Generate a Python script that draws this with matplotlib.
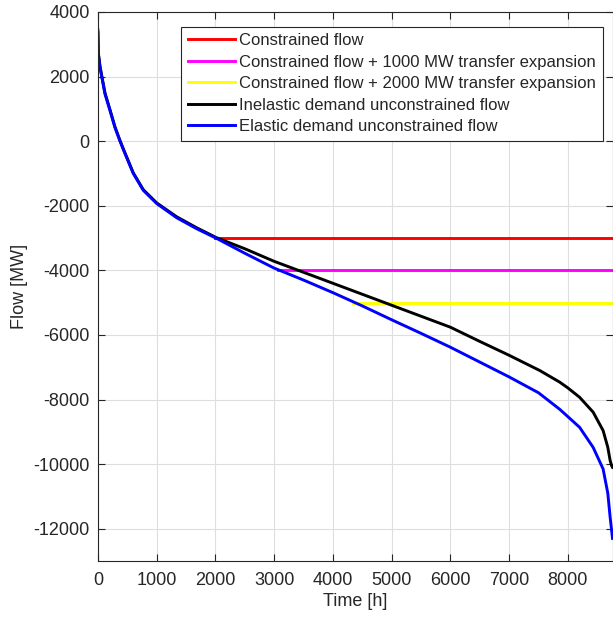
import numpy as np
import matplotlib
matplotlib.use("Agg")
import matplotlib.pyplot as plt

plt.rcParams['font.family'] = ['Liberation Sans', 'DejaVu Sans']
plt.rcParams['axes.unicode_minus'] = False

# Duration curves (hours, MW)
elastic_h = [0, 7, 36, 65, 121, 206, 291, 376, 440, 602, 772, 1000, 1340, 1680, 2020,
             2500, 3000, 3500, 4000, 4500, 5000, 5500, 6000, 6500, 7000, 7500, 7860,
             8000, 8200, 8430, 8600, 8680, 8720, 8745, 8760]
elastic_mw = [3360, 2700, 2280, 2000, 1460, 950, 420, 0, -290, -1000, -1520, -1930, -2370,
              -2710, -3010, -3470, -3930, -4300, -4690, -5100, -5530, -5950, -6380, -6840,
              -7300, -7790, -8300, -8530, -8860, -9480, -10150, -10900, -11650, -12050, -12300]

inelastic_h = [0, 7, 36, 65, 121, 206, 291, 376, 440, 602, 772, 1000, 1340, 1680, 2020,
               2500, 3000, 3500, 4000, 4500, 5000, 5500, 6000, 6500, 7000, 7520, 7860,
               8000, 8200, 8430, 8600, 8680, 8720, 8745, 8760]
inelastic_mw = [3440, 2740, 2320, 2030, 1490, 970, 440, 20, -270, -980, -1500, -1910, -2340,
                -2680, -2990, -3330, -3720, -4060, -4400, -4740, -5080, -5420, -5760, -6200,
                -6630, -7100, -7460, -7640, -7930, -8390, -8960, -9480, -9890, -10050, -10100]

# Constrained flows: (start hour, end hour) and limit (MW)
red_h = [2000, 8760];        red_mw = [-3000, -3000]
magenta_h = [3070, 8760];    magenta_mw = [-4000, -4000]
yellow_h = [4340, 8760];     yellow_mw = [-5000, -5000]

labels = ["Constrained flow",
          "Constrained flow + 1000 MW transfer expansion",
          "Constrained flow + 2000 MW transfer expansion",
          "Inelastic demand unconstrained flow",
          "Elastic demand unconstrained flow"]

fig = plt.figure(figsize=(6.13, 6.17), dpi=100)
W, H = 613, 617
x0, x1, ytop, ybot = 97.9, 612.5, 12, 561
ax = fig.add_axes([x0 / W, 1 - ybot / H, (x1 - x0) / W, (ybot - ytop) / H])

lw = 2.1
ax.plot(red_h, red_mw, color='#ff0000', lw=lw, label=labels[0])
ax.plot(magenta_h, magenta_mw, color='#ff00ff', lw=lw, label=labels[1])
ax.plot(yellow_h, yellow_mw, color='#ffff00', lw=lw, label=labels[2])
ax.plot(inelastic_h, inelastic_mw, color='#000000', lw=lw, label=labels[3])
ax.plot(elastic_h, elastic_mw, color='#0000ff', lw=lw, label=labels[4])

ax.set_xlim(0, 8760)
ax.set_ylim(-13000, 4000)
ax.set_xticks(np.arange(0, 8001, 1000))
ax.set_yticks(np.arange(-12000, 4001, 2000))
ax.grid(True, color='#dedede', lw=0.8)
ax.set_axisbelow(True)

tc = '#262626'
for s in ax.spines.values():
    s.set_color('#262626')
    s.set_linewidth(0.8)
ax.tick_params(direction='in', length=5, width=0.8, colors=tc, labelsize=13,
               top=True, right=True, pad=6)
ax.tick_params(axis='x', pad=8)
ax.set_xlabel("Time [h]", fontsize=13, color=tc, labelpad=3)
ax.set_ylabel("Flow [MW]", fontsize=13, color=tc, labelpad=4)

leg = ax.legend(loc='upper left', bbox_to_anchor=((181 - x0) / (x1 - x0), (ybot - 26.5) / (ybot - ytop)),
                borderaxespad=0, fontsize=12, handlelength=2.85, handletextpad=0.25,
                labelspacing=0.39, borderpad=0.4, fancybox=False, framealpha=1,
                edgecolor='#262626')
leg.get_frame().set_linewidth(0.8)
for t in leg.get_texts():
    t.set_color(tc)

fig.savefig("out.png", dpi=100)
